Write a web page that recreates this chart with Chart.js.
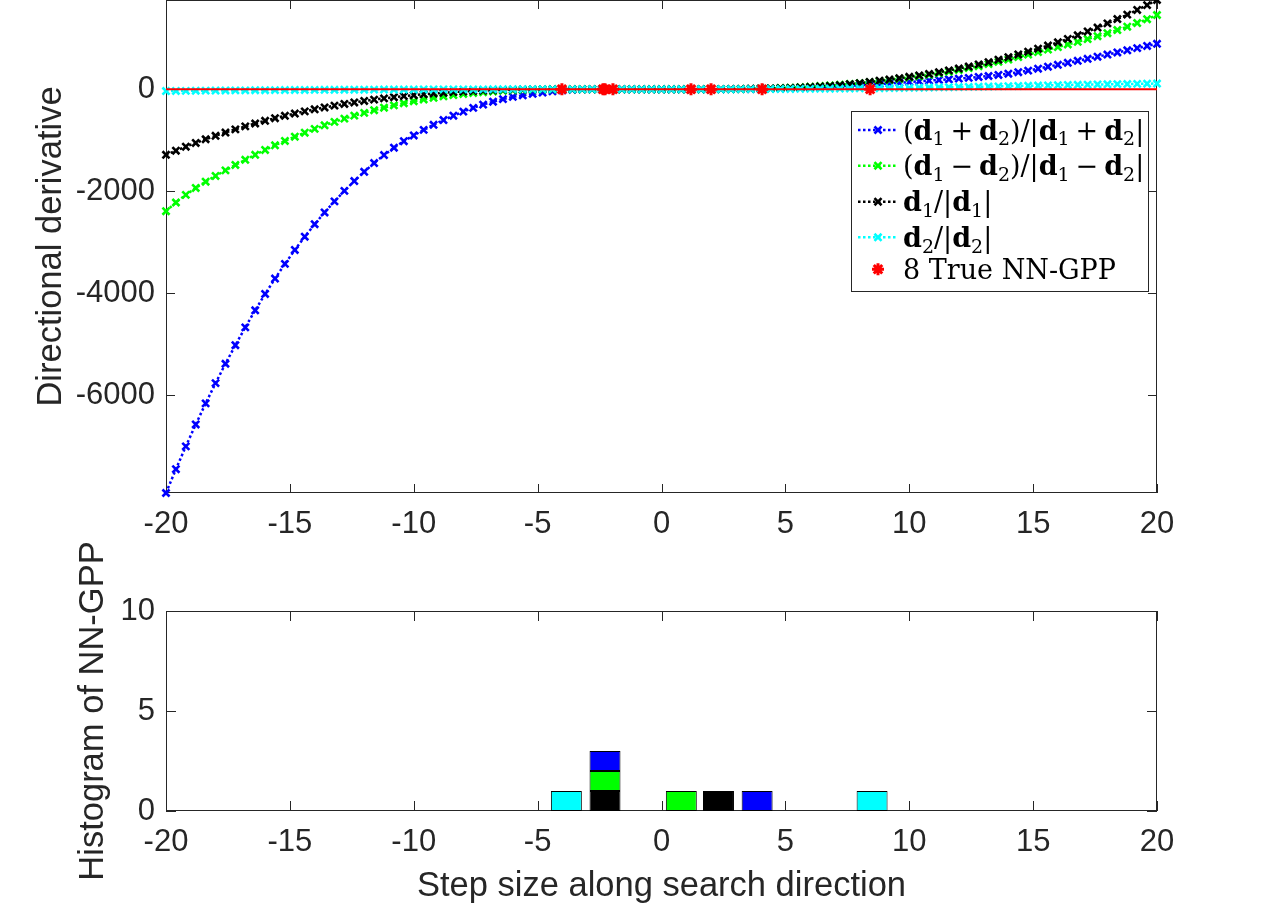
<!DOCTYPE html>
<html><head><meta charset="utf-8">
<script src="https://cdn.jsdelivr.net/npm/chart.js@4.4.1/dist/chart.umd.min.js"></script>
<style>
html,body{margin:0;padding:0;background:#fff;overflow:hidden;width:1280px;height:907px;}
#c1{position:absolute;left:0;top:0;}
#c2{position:absolute;left:0;top:530px;}
</style></head><body>
<canvas id="c1" width="1280" height="560"></canvas>
<canvas id="c2" width="1280" height="377"></canvas>
<script>
// ---- data ----
const steps = [-20,-19.6,-19.2,-18.8,-18.4,-18,-17.6,-17.2,-16.8,-16.4,-16,-15.6,-15.2,-14.8,-14.4,-14,-13.6,-13.2,-12.8,-12.4,-12,-11.6,-11.2,-10.8,-10.4,-10,-9.6,-9.2,-8.8,-8.4,-8,-7.6,-7.2,-6.8,-6.4,-6,-5.6,-5.2,-4.8,-4.4,-4,-3.6,-3.2,-2.8,-2.4,-2,-1.6,-1.2,-0.8,-0.4,0,0.4,0.8,1.2,1.6,2,2.4,2.8,3.2,3.6,4,4.4,4.8,5.2,5.6,6,6.4,6.8,7.2,7.6,8,8.4,8.8,9.2,9.6,10,10.4,10.8,11.2,11.6,12,12.4,12.8,13.2,13.6,14,14.4,14.8,15.2,15.6,16,16.4,16.8,17.2,17.6,18,18.4,18.8,19.2,19.6,20];

const blueVals = [-7915,-7449,-7001,-6571,-6158,-5761,-5381,-5017,-4668,-4333,-4013,-3711,-3423,-3150,-2891,-2646,-2415,-2197,-1992,-1799,-1618,-1446,-1289,-1146,-1018,-905,-797,-697,-604,-518,-438,-365,-301,-244,-194,-150,-118,-91,-65,-40,-20,-8,-3,-1,0,0,0,0,0,0,0,
0,0,0,0,1,1,2,3,5,8,12,16,20,26,33,41,49,58,68,78,90,102,115,129,143,156,169,182,195,208,224,241,260,281,305,334,366,403,442,480,519,558,598,638,680,722,764,806,849,891];

const greenVals = [-2390,-2220,-2070,-1935,-1812,-1700,-1590,-1484,-1382,-1284,-1190,-1099,-1013,-930,-852,-777,-706,-639,-576,-517,-462,-410,-361,-316,-274,-235,-200,-168,-139,-114,-92,-73,-57,-43,-31,-21,-13,-7,-3,-1,0,0,0,0,0,0,0,0,0,0,0,
0,0,0,1,1,2,3,5,8,12,18,25,33,42,52,63,75,88,103,119,137,157,178,202,228,254,282,312,344,378,414,452,493,537,583,631,680,729,778,828,879,930,984,1040,1099,1161,1227,1298,1374,1456];

const blackVals = [-1285,-1204,-1126,-1052,-980,-912,-848,-786,-727,-671,-618,-568,-520,-476,-433,-393,-356,-321,-288,-258,-229,-203,-178,-156,-135,-116,-99,-83,-69,-56,-45,-35,-26,-18,-12,-8,-5,-3,-2,-1,-1,0,0,0,0,0,0,0,0,0,0,
0,0,1,1,2,3,5,7,9,12,16,21,27,34,43,54,67,82,100,120,143,168,191,217,244,272,302,335,370,407,446,488,532,579,629,682,737,795,857,921,988,1059,1133,1210,1291,1376,1463,1555,1650,1750];

const cyanVals = [-35,-33,-31,-29,-27,-25,-24,-22,-21,-19,-18,-17,-15,-14,-13,-12,-11,-10,-9,-8,-8,-7,-6,-6,-5,-5,-4,-4,-3,-3,-2,-2,-2,-1,-1,-1,0,0,0,0,0,0,0,0,0,0,0,0,0,0,0,
0,0,0,0,0,1,1,2,2,3,4,5,6,7,8,10,11,13,15,17,19,21,23,26,28,31,34,37,40,43,46,50,53,57,61,65,69,73,77,81,85,88,91,94,97,100,103,106,109,112];

const nngppX = [-4.02,-2.36,-2.28,-1.96,1.19,2.0,4.06,8.42];
const nngppY = [0,0,0,0,0,0,0,0];
const zeroLineX = [-20,20];
const zeroLineY = [0,0];

const histCenters = [-3.84,-2.28,0.8,2.3,3.86,8.5];
const histBlack = [0,1,0,1,0,0];
const histGreen = [0,1,1,0,0,0];
const histBlue  = [0,1,0,0,1,0];
const histCyan  = [1,0,0,0,0,1];

const xTicks = [-20,-15,-10,-5,0,5,10,15,20];
const topYTicks = [-6000,-4000,-2000,0];
const histYTicks = [0,5,10];

// ---- styling ----
Chart.defaults.font.family = '"Liberation Sans", Arial, sans-serif';
Chart.defaults.color = '#262626';
const AX = '#262626';
const TICK_FONT = {size: 31};
const TITLE_FONT = {size: 34.5};

function setTicks(list) {
  return function (s) { s.ticks = list.map(v => ({value: v})); };
}

function drawMath(ctx, segs, x, y, size) {
  for (const [t, k] of segs) {
    let dy = 0, pad = 0;
    if (k === 'b') ctx.font = 'bold ' + size + 'px "DejaVu Serif"';
    else if (k === 's') { ctx.font = Math.round(size * 0.7) + 'px "DejaVu Serif"'; dy = size * 0.22; }
    else ctx.font = size + 'px "DejaVu Serif"';
    if (k === 'o') pad = size * 0.22;
    x += pad;
    ctx.fillText(t, x, y + dy);
    x += ctx.measureText(t).width + pad;
  }
}

const boxPlugin = {
  id: 'matBox',
  beforeDatasetsDraw(chart, args, o) {
    const ctx = chart.ctx, a = chart.chartArea;
    const xs = chart.scales.x, ys = chart.scales.y;
    const L = o.tickLength || 9;
    ctx.save();
    ctx.strokeStyle = AX; ctx.lineWidth = 1; ctx.setLineDash([]);
    ctx.strokeRect(Math.round(a.left) + 0.5, Math.round(a.top) + 0.5, Math.round(a.right - a.left) - 1, Math.round(a.bottom - a.top) - 1);
    ctx.beginPath();
    xs.ticks.forEach(t => {
      const p = Math.round(xs.getPixelForValue(t.value)) + 0.5;
      ctx.moveTo(p, a.bottom); ctx.lineTo(p, a.bottom - L);
      ctx.moveTo(p, a.top); ctx.lineTo(p, a.top + L);
    });
    ys.ticks.forEach(t => {
      const p = Math.round(ys.getPixelForValue(t.value)) + 0.5;
      ctx.moveTo(a.left, p); ctx.lineTo(a.left + L, p);
      ctx.moveTo(a.right, p); ctx.lineTo(a.right - L, p);
    });
    ctx.stroke();
    ctx.restore();
  }
};

const legendPlugin = {
  id: 'matLegend',
  afterDatasetsDraw(chart, args, o) {
    if (!o || !o.items) return;
    const ctx = chart.ctx;
    ctx.save();
    ctx.fillStyle = '#fff';
    ctx.fillRect(o.x, o.y, o.w, o.h);
    ctx.strokeStyle = AX; ctx.lineWidth = 1;
    ctx.strokeRect(o.x + 0.5, o.y + 0.5, o.w, o.h);
    o.items.forEach((it, i) => {
      const ds = chart.data.datasets[it.ds];
      const cy = o.rowY[i];
      if (ds.showLine !== false) {
        ctx.setLineDash(ds.borderDash || []);
        ctx.lineWidth = ds.borderWidth;
        ctx.strokeStyle = ds.borderColor;
        ctx.beginPath(); ctx.moveTo(o.x + 7, cy); ctx.lineTo(o.x + 47, cy); ctx.stroke();
      }
      ctx.setLineDash([]);
      ctx.strokeStyle = ds.pointBorderColor; ctx.fillStyle = ds.pointBackgroundColor;
      ctx.lineWidth = ds.pointBorderWidth;
      Chart.helpers.drawPoint(ctx, {pointStyle: ds.pointStyle, radius: ds.pointRadius, borderWidth: ds.pointBorderWidth, rotation: 0}, o.x + 27, cy);
      ctx.fillStyle = '#000';
      ctx.textBaseline = 'alphabetic';
      ctx.textAlign = 'left';
      drawMath(ctx, it.segs, o.x + 52, cy + 9.5, o.size);
    });
    ctx.restore();
  }
};

function lineDs(label, vals, color, order) {
  return {
    label, order,
    data: steps.map((x, i) => ({x, y: vals[i]})),
    borderColor: color, backgroundColor: color,
    borderWidth: 2.5, borderDash: [2.5, 2.5],
    pointStyle: 'crossRot', pointRadius: 5, pointBorderWidth: 2.6,
    pointBorderColor: color, pointBackgroundColor: color,
    tension: 0, clip: false
  };
}

const allVals = [].concat(blueVals, greenVals, blackVals, cyanVals);
const yMin = Math.min(...allVals);
const yMax = Math.max(...allVals);

const topDatasets = [
  lineDs('(d1+d2)/|d1+d2|', blueVals, '#0000ff', 5),
  lineDs('(d1-d2)/|d1-d2|', greenVals, '#00ff00', 4),
  lineDs('d1/|d1|', blackVals, '#000000', 3),
  lineDs('d2/|d2|', cyanVals, '#00ffff', 2),
  {label: 'zero', order: 1, data: zeroLineX.map((x, i) => ({x, y: zeroLineY[i]})),
   borderColor: '#ff0000', borderWidth: 2, pointRadius: 0, tension: 0, clip: false},
  {label: '8 True NN-GPP', order: 0, data: nngppX.map((x, i) => ({x, y: nngppY[i]})),
   showLine: false, borderColor: '#ff0000', backgroundColor: '#ff0000',
   pointStyle: 'star', pointRadius: 6, pointBorderWidth: 3,
   pointBorderColor: '#ff0000', pointBackgroundColor: '#ff0000', clip: false}
];

const plusSegs = (op) => [['(', 'n'], ['d', 'b'], ['1', 's'], [op, 'o'], ['d', 'b'], ['2', 's'], [')/|', 'n'], ['d', 'b'], ['1', 's'], [op, 'o'], ['d', 'b'], ['2', 's'], ['|', 'n']];
const unitSegs = (n) => [['d', 'b'], [n, 's'], ['/|', 'n'], ['d', 'b'], [n, 's'], ['|', 'n']];

new Chart(document.getElementById('c1'), {
  type: 'line',
  data: {datasets: topDatasets},
  options: {
    responsive: false, animation: false, events: [],
    layout: {autoPadding: false, padding: {left: 0, top: 0, right: 123, bottom: 0}},
    plugins: {
      legend: {display: false}, tooltip: {enabled: false},
      matBox: {tickLength: 9},
      matLegend: {
        x: 851, y: 111, w: 297, h: 180, size: 27,
        rowY: [130, 165.7, 201.7, 237.3, 269.3],
        items: [
          {ds: 0, segs: plusSegs('+')},
          {ds: 1, segs: plusSegs('\u2212')},
          {ds: 2, segs: unitSegs('1')},
          {ds: 3, segs: unitSegs('2')},
          {ds: 5, segs: [['8 True NN-GPP', 'n']]}
        ]
      }
    },
    scales: {
      x: {
        type: 'linear', min: -20, max: 20,
        grid: {display: false, drawTicks: false}, border: {display: false},
        ticks: {padding: 13, font: TICK_FONT, color: AX, maxRotation: 0, autoSkip: false, callback: v => String(v)},
        afterBuildTicks: setTicks(xTicks),
        afterFit(s) { s.height = 67; s.paddingLeft = 0; s.paddingRight = 0; }
      },
      y: {
        type: 'linear', min: yMin, max: yMax,
        grid: {display: false, drawTicks: false}, border: {display: false},
        ticks: {padding: 11, font: TICK_FONT, color: AX, autoSkip: false, callback: v => String(v)},
        afterBuildTicks: setTicks(topYTicks),
        title: {display: true, text: 'Directional derivative', font: TITLE_FONT, color: AX, padding: {top: 30.5, bottom: 0}},
        afterFit(s) { s.width = 166; s.paddingTop = 0; s.paddingBottom = 0; }
      }
    }
  },
  plugins: [boxPlugin, legendPlugin]
});

function histDs(label, counts, color) {
  return {
    label, stack: 'h', grouped: false,
    data: histCenters.map((x, i) => ({x, y: counts[i] || null})),
    backgroundColor: color, borderColor: '#000000', borderWidth: 1, borderSkipped: false,
    categoryPercentage: 1, barPercentage: 0.833
  };
}

new Chart(document.getElementById('c2'), {
  type: 'bar',
  data: {datasets: [
    histDs('d1/|d1|', histBlack, '#000000'),
    histDs('(d1-d2)/|d1-d2|', histGreen, '#00ff00'),
    histDs('(d1+d2)/|d1+d2|', histBlue, '#0000ff'),
    histDs('d2/|d2|', histCyan, '#00ffff')
  ]},
  options: {
    responsive: false, animation: false, events: [],
    layout: {autoPadding: false, padding: {left: 0, top: 81, right: 123, bottom: 0}},
    plugins: {legend: {display: false}, tooltip: {enabled: false}, matBox: {tickLength: 10}},
    scales: {
      x: {
        type: 'linear', min: -20, max: 20, offset: false,
        grid: {display: false, drawTicks: false, offset: false}, border: {display: false},
        ticks: {padding: 13, font: TICK_FONT, color: AX, maxRotation: 0, autoSkip: false, callback: v => String(v)},
        afterBuildTicks: setTicks(xTicks),
        title: {display: true, text: 'Step size along search direction', font: TITLE_FONT, color: AX, padding: {top: 0, bottom: 0}},
        afterFit(s) { s.height = 96; s.paddingLeft = 0; s.paddingRight = 0; }
      },
      y: {
        type: 'linear', min: 0, max: histYTicks[histYTicks.length - 1], stacked: true,
        grid: {display: false, drawTicks: false}, border: {display: false},
        ticks: {padding: 11, font: TICK_FONT, color: AX, autoSkip: false, callback: v => String(v)},
        afterBuildTicks: setTicks(histYTicks),
        title: {display: true, text: 'Histogram of NN-GPP', font: TITLE_FONT, color: AX, padding: {top: 73, bottom: 0}},
        afterFit(s) { s.width = 166; s.paddingTop = 0; s.paddingBottom = 0; }
      }
    }
  },
  plugins: [boxPlugin]
});
</script>
</body></html>
